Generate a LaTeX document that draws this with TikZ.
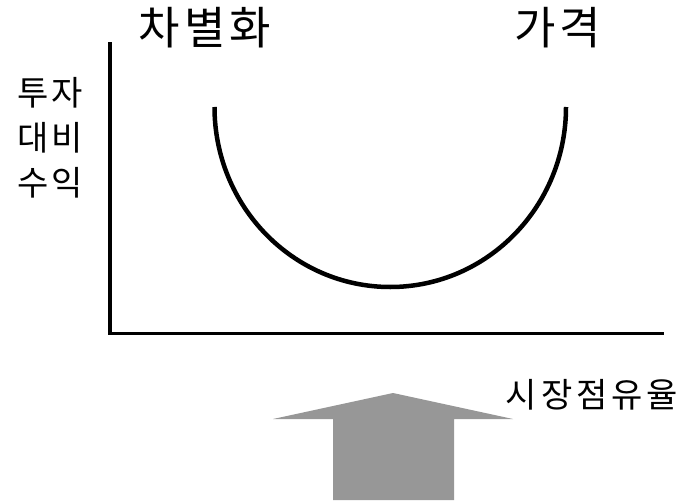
\documentclass[tikz,border=0pt]{standalone}
\usepackage{fontspec}
\setmainfont{Noto Sans CJK KR}
\definecolor{arrowgray}{RGB}{151,151,151}
\begin{document}
\begin{tikzpicture}[x=1pt,y=-1pt,
  axisline/.style={line width=3.6pt,line cap=rect},
  curveline/.style={line width=4.5pt},
  bigtxt/.style={inner sep=0pt,font=\fontsize{45}{48}\selectfont},
  midtxt/.style={inner sep=0pt,font=\fontsize{34}{45}\selectfont},
]
\useasboundingbox (0,0) rectangle (687,500);
% axes
\coordinate (top) at (110,44);
\coordinate (origin) at (110,333.5);
\coordinate (xend) at (662,333.5);
\draw[axisline] (top) -- (origin) -- (xend);
% U curve
\coordinate (cl) at (214.5,107);
\coordinate (cr) at (566,107);
\draw[curveline] (cl) arc[start angle=180,end angle=360,x radius=175.75,y radius=-180];
% labels
\node[bigtxt] (diff) at (205,28) {차\hspace{4pt}별\hspace{4pt}화};
\node[bigtxt] (price) at (558,28) {가\hspace{4pt}격};
\node[midtxt,align=center] (roi) at (50,138) {투\hspace{3pt}자\\대\hspace{3pt}비\\수\hspace{3pt}익};
\node[midtxt] (share) at (592,395) {시\hspace{4pt}장\hspace{4pt}점\hspace{4pt}유\hspace{4pt}율};
% gray arrow
\fill[arrowgray] (333,500) -- (333,419) -- (273,419) -- (393,393) -- (513,419) -- (454,419) -- (454,500) -- cycle;
\end{tikzpicture}
\end{document}
